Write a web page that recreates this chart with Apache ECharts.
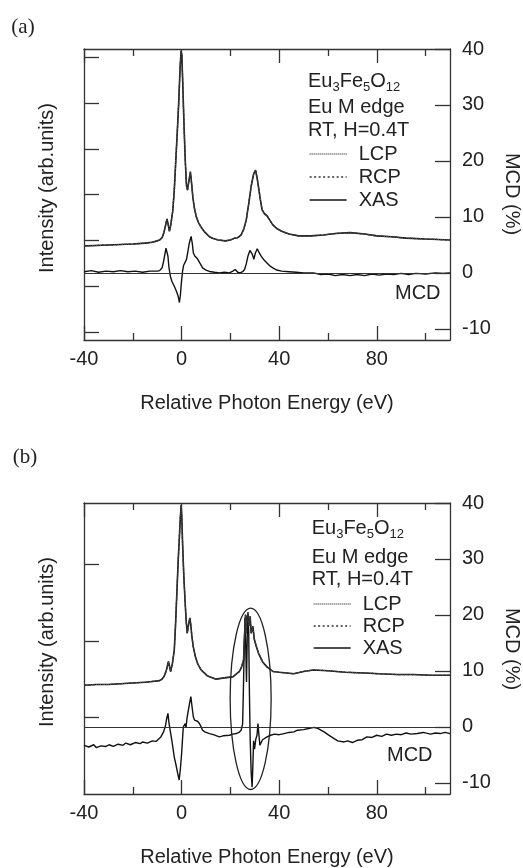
<!DOCTYPE html>
<html><head><meta charset="utf-8">
<script src="https://cdn.jsdelivr.net/npm/echarts@6/dist/echarts.min.js"></script>
<style>html,body{margin:0;padding:0;background:#fff}#c{width:523px;height:868px}</style>
</head><body><div id="c"></div>
<script>
// ---------- data ----------
const xMajorTicks = [-40, 0, 40, 80];
const xMinorTicks = [-20, 20, 60, 100];
const mcdTicks = [-10, 0, 10, 20, 30, 40];
const intensityTicksA = [0, 1, 2, 3, 4, 5, 6];
const intensityTicksB = [0, 1, 2];
const legendNames = ['LCP', 'RCP', 'XAS'];

// panel (a): XAS intensity (arb. units) vs relative photon energy (eV)
const xasA = [[-40,1.88],[-35,1.89],[-30,1.90],[-25,1.91],[-20,1.92],[-15,1.94],[-12,1.96],[-10,1.99],[-9,2.01],[-8,2.06],[-7.2,2.18],[-6.6,2.32],[-6.0,2.47],[-5.5,2.35],[-5.0,2.20],[-4.4,2.35],[-3.6,2.66],[-3.0,3.10],[-2.3,3.83],[-1.7,4.45],[-1.2,5.00],[-0.6,5.80],[-0.2,6.15],[0.1,6.05],[0.5,5.40],[1.0,4.50],[1.5,3.75],[2.0,3.20],[2.4,3.10],[3.0,3.30],[3.6,3.50],[4.1,3.25],[4.6,2.95],[5.2,2.72],[6.0,2.52],[7.0,2.38],[8.0,2.29],[9.5,2.18],[11.4,2.08],[13,2.04],[15,2.01],[18,1.99],[20,2.01],[21.7,2.05],[23,2.06],[24.4,2.12],[25.5,2.25],[26.5,2.45],[27.5,2.80],[28.5,3.18],[29.5,3.45],[30.3,3.54],[31.0,3.35],[31.7,3.10],[32.4,2.85],[33.0,2.67],[34.0,2.58],[35.0,2.54],[36.2,2.44],[37.4,2.34],[39,2.26],[41,2.20],[44,2.14],[48,2.10],[53,2.10],[58,2.12],[63,2.15],[69,2.17],[75,2.14],[80,2.10],[86,2.08],[92,2.05],[100,2.03],[110,2.01]];
// panel (a): MCD (%)
const mcdA = [[-40,0.2],[-37,0.4],[-34,0.1],[-31,0.3],[-28,0.2],[-25,0.4],[-22,0.2],[-19,0.3],[-16,0.1],[-13,0.3],[-10,0.3],[-9,0.4],[-8,0.9],[-7.5,1.8],[-6.9,3.2],[-6.4,4.4],[-6.0,4.7],[-5.6,3.0],[-5.2,1.0],[-4.6,-0.6],[-4.0,-1.5],[-3.0,-2.4],[-2.2,-3.2],[-1.6,-3.9],[-1.2,-4.6],[-0.9,-5.3],[-0.5,-4.0],[-0.1,-1.8],[0.4,0.3],[0.8,1.3],[1.5,1.6],[2.0,2.4],[2.5,3.6],[3.1,5.2],[3.9,6.5],[4.4,5.2],[4.8,3.6],[5.4,3.0],[5.9,2.7],[6.5,2.5],[7.0,2.2],[7.8,1.5],[8.6,0.9],[10,0.5],[11.4,0.25],[13.5,0.1],[15.5,0.0],[17.5,0.1],[19.6,0.0],[21,0.3],[22,0.6],[23,0.1],[24,0.0],[25.0,0.2],[25.8,0.6],[26.5,1.6],[27.2,3.0],[28.0,4.0],[28.5,4.15],[29.0,3.3],[29.6,2.4],[30.2,3.5],[31.0,4.3],[31.8,3.6],[32.6,3.0],[33.6,2.4],[34.7,1.9],[36,1.3],[37.4,0.9],[39,0.5],[41,0.3],[44,0.2],[47,0.1],[50,0.0],[54,0.0],[57,-0.3],[60,-0.2],[63,-0.5],[66,-0.3],[69,-0.5],[72,-0.3],[75,-0.5],[78,-0.2],[81,-0.4],[84,-0.2],[87,-0.3],[90,-0.1],[93,-0.3],[96,-0.1],[100,-0.2],[104,0.0],[107,-0.1],[110,0.0]];

// panel (b): XAS intensity (arb. units)
const xasB = [[-40,0.42],[-35,0.43],[-30,0.43],[-25,0.44],[-20,0.45],[-15,0.46],[-12,0.47],[-9,0.48],[-8,0.50],[-7.1,0.54],[-6.2,0.62],[-5.4,0.73],[-4.9,0.66],[-4.5,0.60],[-3.8,0.70],[-3.0,0.88],[-2.5,1.20],[-1.9,1.66],[-1.4,2.05],[-0.9,2.36],[-0.5,2.62],[-0.2,2.77],[0.1,2.60],[0.4,2.27],[0.9,1.85],[1.4,1.53],[1.9,1.25],[2.3,1.10],[2.9,1.22],[3.4,1.30],[3.8,1.20],[4.2,1.06],[4.8,0.92],[5.6,0.80],[6.6,0.70],[8.0,0.62],[10.7,0.54],[14.1,0.50],[18.2,0.52],[21,0.53],[23.7,0.60],[24.6,0.66],[25.4,0.75],[25.8,1.05],[26.2,1.34],[26.5,1.10],[26.8,1.30],[27.2,1.35],[27.6,1.20],[28.1,1.32],[28.5,1.10],[29.2,1.19],[29.8,1.02],[30.6,0.93],[31.5,0.84],[33.3,0.72],[35,0.66],[37.4,0.60],[40,0.59],[46,0.57],[50,0.60],[54,0.62],[60,0.61],[67,0.59],[75,0.58],[81,0.57],[88,0.56],[95,0.56],[102,0.55],[110,0.55]];
// panel (b): MCD (%)
const mcdB = [[-40,-3.3],[-38,-3.6],[-36,-3.2],[-35,-3.7],[-33,-3.4],[-31,-3.5],[-29.7,-3.2],[-28,-3.5],[-26,-3.1],[-24,-3.3],[-22.9,-2.9],[-21,-3.2],[-19,-2.8],[-17,-3.0],[-16,-2.7],[-14,-2.9],[-12,-2.5],[-10.5,-2.6],[-9.5,-2.2],[-8.5,-1.8],[-7.5,-1.0],[-6.7,0.0],[-6.1,1.5],[-5.6,2.4],[-5.2,0.8],[-4.7,-0.6],[-3.8,-3.0],[-3.0,-5.4],[-2.2,-7.0],[-1.6,-8.3],[-1.0,-9.5],[-0.5,-7.5],[0,-4.8],[0.4,-2.0],[0.7,0.0],[1.1,0.3],[1.5,0.6],[1.8,-0.2],[2.2,1.5],[2.7,2.8],[3.3,4.3],[3.8,5.4],[4.3,3.5],[4.8,1.8],[5.3,1.2],[5.9,0.9],[6.5,1.0],[7.3,0.6],[8.0,0.0],[8.6,-0.6],[9.5,-0.9],[11.4,-1.2],[13,-1.4],[15.5,-1.8],[17,-1.6],[19.6,-1.5],[21,-1.3],[22.4,-1.2],[23.5,-1.0],[24.4,-0.6],[25.0,0.5],[25.3,6],[25.7,15],[26.0,19.5],[26.3,14],[26.6,8],[26.9,16],[27.2,20.5],[27.5,17],[27.8,6],[28.1,-2],[28.5,-8],[28.9,-10.8],[29.2,-7],[29.5,-2.5],[29.9,-4],[30.4,-2.2],[30.9,-1.5],[31.3,0.6],[31.7,-1.5],[32.1,-3.3],[32.6,-2.8],[33.2,-2.3],[33.8,-2.1],[35,-1.8],[36.5,-1.5],[38,-1.3],[40,-1.4],[42,-1.2],[44,-1.0],[46,-0.9],[47.5,-0.6],[50,-0.5],[52,-0.3],[54.3,-0.1],[56,-0.3],[58.4,-0.9],[60,-1.4],[62.5,-2.1],[64,-2.5],[66.6,-2.7],[68,-2.5],[70,-2.8],[72,-2.4],[74,-2.3],[76,-1.8],[78,-1.9],[80,-1.5],[82,-1.7],[84,-1.3],[86,-1.5],[88,-1.3],[90,-1.4],[92,-1.1],[94,-1.3],[96.6,-1.2],[99,-1.0],[102,-1.3],[104,-1.1],[106,-1.2],[108,-1.0],[110,-1.2]];

// highlighted region in (b): centre (eV, %) and half-extents
const ellipseB = {e: 28.3, mcd: 5.0, de: 8.4, dmcd: 16.2};

// ---------- chart ----------
const FONT = "'Liberation Sans', Arial, Helvetica, sans-serif";
const SERIF = "'Liberation Serif', 'Times New Roman', serif";
const INK = '#222';
const AX = {color: '#333', width: 1.3};

function xAxesFor(g) {
  const base = {gridIndex: g, type: 'value', min: -40, max: 110, splitLine: {show: false}};
  const tick = (len, vals) => ({show: true, inside: true, length: len, customValues: vals, lineStyle: AX});
  return [
    Object.assign({}, base, {position: 'bottom',
      axisLine: {show: true, onZero: false, lineStyle: AX},
      axisTick: tick(14, xMajorTicks),
      axisLabel: {show: true, customValues: xMajorTicks, fontSize: 20, fontFamily: FONT, color: INK, margin: 9},
      name: 'Relative Photon Energy (eV)', nameLocation: 'middle', nameGap: 53,
      nameTextStyle: {fontSize: 20, fontFamily: FONT, color: INK}}),
    Object.assign({}, base, {position: 'bottom', axisLine: {show: false, onZero: false},
      axisTick: tick(7, xMinorTicks), axisLabel: {show: false}}),
    Object.assign({}, base, {position: 'top', axisLine: {show: true, onZero: false, lineStyle: AX},
      axisTick: tick(14, xMajorTicks), axisLabel: {show: false}}),
    Object.assign({}, base, {position: 'top', axisLine: {show: false, onZero: false},
      axisTick: tick(7, xMinorTicks), axisLabel: {show: false}})
  ];
}
function yAxesFor(g, imin, imax, iticks) {
  return [
    {gridIndex: g, type: 'value', position: 'left', min: imin, max: imax, splitLine: {show: false},
     axisLine: {show: true, onZero: false, lineStyle: AX},
     axisTick: {show: true, inside: true, length: 15, customValues: iticks, lineStyle: AX},
     axisLabel: {show: false}},
    {gridIndex: g, type: 'value', position: 'right', min: -12, max: 40, splitLine: {show: false},
     axisLine: {show: true, onZero: false, lineStyle: AX},
     axisTick: {show: true, inside: true, length: 15, customValues: mcdTicks, lineStyle: AX},
     axisLabel: {show: true, customValues: mcdTicks, fontSize: 20, fontFamily: FONT, color: INK, margin: 12}}
  ];
}
function seriesFor(g, xas, mcd) {
  const xi = 4 * g, yl = 2 * g, yr = 2 * g + 1;
  const common = {type: 'line', xAxisIndex: xi, symbol: 'none', silent: true, animation: false};
  return [
    Object.assign({}, common, {name: 'LCP', yAxisIndex: yl, data: xas, z: 3,
      lineStyle: {color: '#555', width: 1.2, type: [1, 1]}, itemStyle: {color: '#555'}}),
    Object.assign({}, common, {name: 'RCP', yAxisIndex: yl, data: xas, z: 3,
      lineStyle: {color: '#333', width: 1.2, type: [2, 2.5]}, itemStyle: {color: '#333'}}),
    Object.assign({}, common, {name: 'XAS', yAxisIndex: yl, data: xas, z: 2,
      lineStyle: {color: '#111', width: 1.6}, itemStyle: {color: '#111'}}),
    Object.assign({}, common, {name: 'MCD', yAxisIndex: yr, data: mcd, z: 2,
      lineStyle: {color: '#111', width: 1.4}, itemStyle: {color: '#111'},
      markLine: {silent: true, symbol: 'none', label: {show: false},
        lineStyle: {color: '#333', width: 1.1, type: 'solid'}, data: [{yAxis: 0}]}})
  ];
}
function legendFor(left, top, gap) {
  return {orient: 'vertical', left: left, top: top, padding: 0, data: legendNames, selectedMode: false,
    itemWidth: 37, itemHeight: 14, itemGap: gap,
    itemStyle: {opacity: 0, borderWidth: 0},
    lineStyle: {width: 1.3},
    textStyle: {fontSize: 20, fontFamily: FONT, color: INK, padding: [0, 0, 0, 7]}};
}

const chart = echarts.init(document.getElementById('c'));
chart.setOption({
  animation: false,
  backgroundColor: '#fff',
  grid: [
    {left: 84, top: 49, width: 366, height: 291, containLabel: false},
    {left: 84, top: 503, width: 366, height: 292, containLabel: false}
  ],
  xAxis: xAxesFor(0).concat(xAxesFor(1)),
  yAxis: yAxesFor(0, -0.18, 6.19, intensityTicksA).concat(yAxesFor(1, -1, 2.8, intensityTicksB)),
  legend: [legendFor(309, 144, 3), legendFor(313, 594, 2)],
  series: seriesFor(0, xasA, mcdA).concat(seriesFor(1, xasB, mcdB))
});

// annotations
const rich = {m: {fontSize: 20, fontFamily: FONT, color: INK},
              s: {fontSize: 13, fontFamily: FONT, color: INK, padding: [12, 0, 0, 0]}};
function txt(x, y, text, extra) {
  return Object.assign({type: 'text', x: x, y: y, silent: true,
    style: Object.assign({text: text, fontSize: 20, fontFamily: FONT, fill: INK,
      align: 'left', verticalAlign: 'middle'}, extra || {})});
}
function header(x, y0, y1, y2) {
  return [
    {type: 'text', x: x, y: y0, silent: true, style: {text: '{m|Eu}{s|3}{m|Fe}{s|5}{m|O}{s|12}', rich: rich,
      fill: INK, align: 'left', verticalAlign: 'middle'}},
    txt(x, y1, 'Eu M edge'),
    txt(x, y2, 'RT, H=0.4T')
  ];
}
const c0 = chart.convertToPixel({xAxisIndex: 4, yAxisIndex: 3}, [ellipseB.e, ellipseB.mcd]);
const cx = chart.convertToPixel({xAxisIndex: 4, yAxisIndex: 3}, [ellipseB.e + ellipseB.de, ellipseB.mcd]);
const cy = chart.convertToPixel({xAxisIndex: 4, yAxisIndex: 3}, [ellipseB.e, ellipseB.mcd + ellipseB.dmcd]);

const graphics = [
  txt(23, 27, '(a)', {fontFamily: SERIF, fontSize: 21, align: 'center'}),
  txt(25, 457, '(b)', {fontFamily: SERIF, fontSize: 21, align: 'center'}),
  ...header(308, 81, 107.7, 130),
  ...header(311.7, 528, 557.8, 579.7),
  txt(395, 293.5, 'MCD'),
  txt(387, 755, 'MCD'),
  Object.assign(txt(47, 188, 'Intensity (arb.units)', {align: 'center'}), {rotation: Math.PI / 2}),
  Object.assign(txt(47, 642, 'Intensity (arb.units)', {align: 'center'}), {rotation: Math.PI / 2}),
  Object.assign(txt(512, 194, 'MCD (%)', {align: 'center'}), {rotation: -Math.PI / 2}),
  Object.assign(txt(512, 649, 'MCD (%)', {align: 'center'}), {rotation: -Math.PI / 2}),
  {type: 'ellipse', silent: true, z: 10,
   shape: {cx: c0[0], cy: c0[1], rx: cx[0] - c0[0], ry: c0[1] - cy[1]},
   style: {fill: 'none', stroke: '#222', lineWidth: 1.3}}
];
chart.setOption({graphic: graphics});
</script>
</body></html>
